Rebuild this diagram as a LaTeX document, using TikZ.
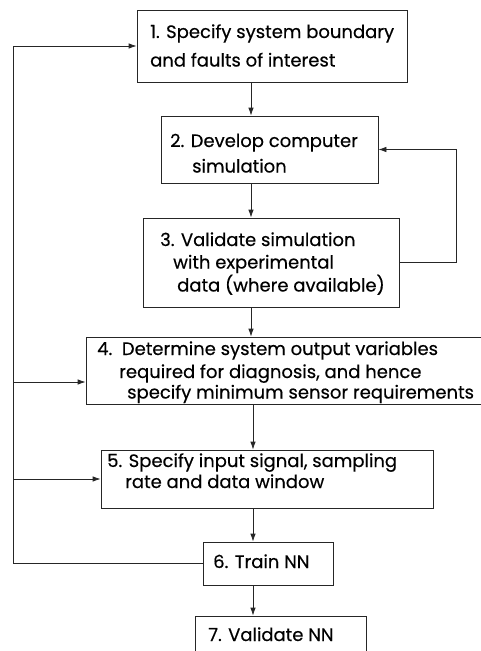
\documentclass[tikz,border=0pt]{standalone}
\usepackage{fontspec}
\setmainfont{Poppins}[FakeBold=0.4]
\usetikzlibrary{arrows.meta}
\begin{document}
\begin{tikzpicture}[x=1pt,y=-1pt,
  box/.style={draw=black!85,line width=0.8pt,rectangle,inner sep=0pt},
  txt/.style={anchor=base west,inner sep=0pt,font=\fontsize{18}{21}\selectfont},
  arr/.style={draw=black!85,line width=0.8pt,-{Latex[length=8pt,width=5.5pt]}},
  ln/.style={draw=black!85,line width=0.8pt}]
\useasboundingbox (0,0) rectangle (481,651);
\clip (0,0) rectangle (481,651);
% boxes
\node[box,minimum width=270pt,minimum height=72pt] (b1) at (272,46) {};
\node[box,minimum width=217pt,minimum height=67pt] (b2) at (269.5,149.5) {};
\node[box,minimum width=256pt,minimum height=89pt] (b3) at (271,262.5) {};
\node[box,minimum width=396pt,minimum height=67pt] (b4) at (284,370.5) {};
\node[box,minimum width=332pt,minimum height=58pt] (b5) at (267,479) {};
\node[box,minimum width=130pt,minimum height=43pt] (b6) at (268,563.5) {};
\node[box,minimum width=171pt,minimum height=48pt] (b7) at (280.5,640) {};
% texts
\node[txt] (t1a) at (150,38) {1. Specify system boundary};
\node[txt] (t1b) at (150,66.5) {and faults of interest};
\node[txt] (t2a) at (170,147) {2. Develop computer};
\node[txt] (t2b) at (192,172.5) {simulation};
\node[txt] (t3a) at (160,246) {3. Validate simulation};
\node[txt] (t3b) at (173,268.5) {with experimental};
\node[txt] (t3c) at (177,291.5) {data (where available)};
\node[txt] (t4a) at (97,355) {4.\ \ Determine system output variables};
\node[txt] (t4b) at (119,378) {required for diagnosis, and hence};
\node[txt] (t4c) at (127,398.5) {specify minimum sensor requirements};
\node[txt] (t5a) at (107,467) {5. Specify input signal, sampling};
\node[txt] (t5b) at (125,488) {rate and data window};
\node[txt] (t6a) at (213,568) {6. Train NN};
\node[txt] (t7a) at (208,641) {7. Validate NN};
% helper coordinates
\coordinate (XA) at (251,0);
\coordinate (XB) at (253,0);
\coordinate (R) at (456,0);
\coordinate (L) at (13,0);
\coordinate (b4in) at ([yshift=-11.5pt]b4.west);
% main flow
\draw[arr] (b1.south -| XA) -- (b2.north -| XA);
\draw[arr] (b2.south -| XA) -- (b3.north -| XA);
\draw[arr] (b3.south -| XA) -- (b4.north -| XA);
\draw[arr] (b4.south -| XB) -- (b5.north -| XB);
\draw[arr] (b5.south -| XB) -- (b6.north -| XB);
\draw[arr] (b6.south -| XB) -- (b7.north -| XB);
% right loop
\draw[arr] (b3.east) -- (R |- b3.east) -- (R |- b2.east) -- (b2.east);
% left loops
\draw[arr] (b6.west) -- (L |- b6.west) -- (L |- b1.west) -- (b1.west);
\draw[arr] (L |- b4in) -- (b4in);
\draw[arr] (L |- b5.west) -- (b5.west);
\end{tikzpicture}
\end{document}
